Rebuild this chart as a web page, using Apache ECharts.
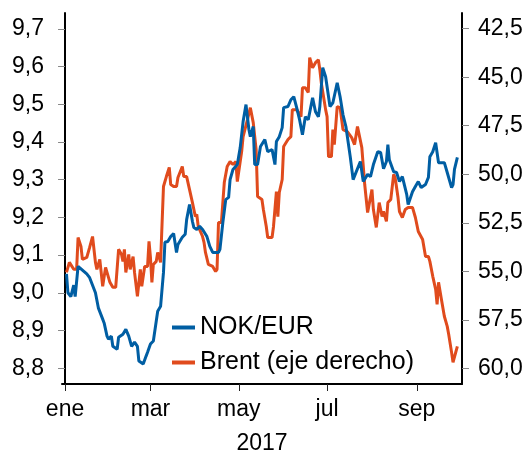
<!DOCTYPE html>
<html>
<head>
<meta charset="utf-8">
<script src="https://cdn.jsdelivr.net/npm/echarts@6/dist/echarts.min.js"></script>
<style>
  html, body { margin: 0; padding: 0; background: #fff; }
  #chart { width: 529px; height: 453px; }
</style>
</head>
<body>
<div id="chart"></div>
<script>
// day of year (0 = 1 ene 2017) and value
const nokEur = [
  [1, 9.05], [2, 9.00], [4, 8.99], [6, 9.02], [7, 8.99], [9, 9.07], [12, 9.06], [15, 9.05],
  [17, 9.04], [19, 9.02], [21, 9.00], [23, 8.96], [26, 8.93], [27, 8.92], [29, 8.885], [30, 8.877],
  [32, 8.885], [33, 8.858], [36, 8.85], [37, 8.882], [40, 8.89], [42, 8.903], [44, 8.885], [46, 8.858],
  [48, 8.869], [50, 8.858], [51, 8.819], [54, 8.811], [56, 8.832], [57, 8.842], [59, 8.864], [61, 8.872],
  [64, 8.951], [66, 8.964], [68, 9.054], [69, 9.134], [71, 9.136], [73, 9.149], [75, 9.157], [77, 9.107],
  [78, 9.128], [81, 9.147], [83, 9.155], [84, 9.194], [86, 9.234], [88, 9.189], [89, 9.173], [91, 9.168],
  [93, 9.176], [95, 9.168], [98, 9.149], [100, 9.123], [102, 9.107], [106, 9.107], [107, 9.115], [109, 9.186],
  [111, 9.247], [113, 9.253], [114, 9.30], [116, 9.327], [119, 9.34], [121, 9.385], [123, 9.454], [125, 9.499],
  [127, 9.433], [128, 9.414], [130, 9.441], [131, 9.34], [133, 9.34], [135, 9.388], [138, 9.406], [140, 9.374],
  [143, 9.38], [145, 9.34], [146, 9.401], [148, 9.414], [150, 9.438], [151, 9.491], [154, 9.494], [156, 9.512],
  [158, 9.52], [160, 9.491], [162, 9.459], [164, 9.419], [166, 9.467], [168, 9.459], [171, 9.517], [173, 9.48],
  [175, 9.467], [176, 9.494], [178, 9.597], [180, 9.573], [181, 9.573], [183, 9.494], [185, 9.504], [188, 9.557],
  [190, 9.52], [192, 9.472], [194, 9.441], [197, 9.361], [199, 9.30], [200, 9.30], [204, 9.348], [206, 9.295],
  [209, 9.314], [211, 9.308], [213, 9.34], [216, 9.374], [218, 9.372], [220, 9.329], [222, 9.348], [223, 9.393],
  [224, 9.353], [227, 9.321], [229, 9.319], [231, 9.295], [233, 9.308], [236, 9.261], [237, 9.234], [240, 9.268],
  [242, 9.282], [244, 9.295], [246, 9.279], [249, 9.287], [251, 9.306], [252, 9.361], [254, 9.374], [256, 9.398],
  [258, 9.345], [260, 9.345], [262, 9.345], [264, 9.319], [265, 9.314], [267, 9.279], [268, 9.287], [269, 9.327],
  [271, 9.359]
]

const brent = [
  [1, 55.06], [3, 54.54], [6, 54.90], [8, 54.90], [9, 53.26], [11, 53.72], [12, 54.39], [15, 54.29],
  [16, 54.39], [17, 53.77], [19, 53.21], [21, 54.54], [22, 54.90], [24, 54.39], [26, 55.78], [28, 54.80],
  [29, 54.80], [31, 55.57], [33, 55.83], [35, 55.83], [37, 53.87], [39, 54.13], [40, 54.49], [41, 53.87],
  [42, 55.06], [44, 54.13], [45, 54.90], [47, 54.24], [48, 55.06], [50, 56.29], [52, 54.90], [53, 55.78],
  [55, 54.75], [57, 54.75], [58, 53.46], [59, 54.29], [60, 55.57], [61, 54.65], [63, 54.49], [64, 54.03],
  [66, 54.54], [68, 50.63], [69, 50.53], [70, 50.12], [72, 49.65], [73, 50.53], [75, 50.63], [77, 50.63],
  [78, 50.17], [81, 49.60], [82, 50.12], [84, 50.12], [85, 50.17], [86, 50.79], [88, 51.46], [90, 52.18],
  [91, 52.07], [92, 52.69], [93, 52.69], [95, 53.21], [96, 53.51], [97, 54.03], [99, 54.65], [100, 54.70],
  [102, 54.75], [104, 55.01], [105, 54.90], [106, 52.49], [108, 52.49], [110, 50.43], [112, 49.60], [114, 49.35],
  [116, 49.50], [118, 49.35], [119, 50.38], [122, 48.83], [123, 48.06], [126, 47.18], [128, 46.57], [130, 47.34],
  [132, 48.73], [133, 51.15], [136, 51.30], [137, 51.82], [139, 52.69], [140, 53.26], [143, 53.26], [144, 52.69],
  [146, 50.89], [147, 52.18], [148, 50.94], [150, 50.27], [151, 48.57], [154, 48.21], [156, 48.06], [157, 46.67],
  [160, 46.67], [161, 46.77], [163, 47.03], [164, 45.54], [166, 45.54], [168, 45.79], [169, 43.99], [171, 44.51],
  [173, 44.25], [175, 44.10], [176, 44.61], [177, 45.28], [180, 46.67], [181, 47.03], [182, 49.09], [184, 49.09],
  [185, 47.70], [186, 48.47], [188, 46.51], [190, 46.57], [192, 47.70], [195, 47.80], [198, 48.11], [200, 48.47],
  [202, 47.54], [205, 48.63], [207, 50.53], [209, 51.97], [212, 50.79], [213, 51.82], [215, 52.74], [217, 51.46],
  [219, 52.18], [220, 51.92], [222, 52.43], [223, 51.46], [225, 51.30], [227, 50.01], [228, 50.17], [230, 51.20],
  [231, 51.92], [233, 52.23], [235, 51.82], [237, 51.71], [240, 51.71], [242, 52.23], [244, 52.95], [245, 52.85],
  [247, 53.36], [249, 54.24], [251, 54.24], [252, 54.49], [254, 55.26], [256, 55.93], [257, 56.71], [258, 55.57],
  [260, 56.45], [262, 57.32], [264, 57.84], [265, 58.25], [267, 59.18], [268, 59.69], [269, 59.69], [271, 58.87]
]

const monthDays = [0, 59, 120, 181, 243]
const monthLabels = ['ene', 'mar', 'may', 'jul', 'sep']
const leftTicks = [8.8, 8.9, 9.0, 9.1, 9.2, 9.3, 9.4, 9.5, 9.6, 9.7]
const rightTicks = [42.5, 45, 47.5, 50, 52.5, 55, 57.5, 60]

const FONT = 'Liberation Sans, Arial, sans-serif'
const comma = v => v.toFixed(1).replace('.', ',')

const chart = echarts.init(document.getElementById('chart'), null, { renderer: 'canvas' })

chart.setOption({
  animation: false,
  backgroundColor: '#fff',
  textStyle: { fontFamily: FONT },
  grid: { left: 62, right: 67, top: 13, bottom: 69, containLabel: false, outerBoundsMode: 'none' },
  legend: {
    orient: 'vertical',
    left: 172,
    top: 315,
    padding: 0,
    icon: 'rect',
    itemWidth: 23,
    itemHeight: 4,
    itemGap: 10,
    textStyle: { fontSize: 25, color: '#000', fontFamily: FONT },
    data: ['NOK/EUR', 'Brent (eje derecho)'],
  },
  xAxis: {
    type: 'value',
    min: -2.1,
    max: 274.2,
    name: '2017',
    nameLocation: 'middle',
    nameGap: 48,
    nameMoveOverlap: false,
    nameTextStyle: { fontSize: 23, color: '#000', fontFamily: FONT },
    axisLine: { lineStyle: { color: '#000', width: 2 } },
    axisTick: { customValues: monthDays, length: 7, lineStyle: { color: '#222', width: 1 } },
    axisLabel: {
      customValues: monthDays,
      margin: 14,
      fontSize: 23,
      color: '#000',
      formatter: v => monthLabels[monthDays.indexOf(Math.round(v))] || '',
    },
    splitLine: { show: false },
  },
  yAxis: [
    {
      type: 'value',
      position: 'left',
      min: 8.758,
      max: 9.742,
      axisLine: { show: true, lineStyle: { color: '#000', width: 2 } },
      axisTick: { show: true, customValues: leftTicks, length: 7, lineStyle: { color: '#888' } },
      axisLabel: { customValues: leftTicks, margin: 18, fontSize: 23, color: '#000', formatter: comma },
      splitLine: { show: false },
    },
    {
      type: 'value',
      position: 'right',
      inverse: true,
      min: 41.69,
      max: 60.81,
      axisLine: { show: true, lineStyle: { color: '#000', width: 2 } },
      axisTick: { show: true, customValues: rightTicks, length: 7, lineStyle: { color: '#888' } },
      axisLabel: { customValues: rightTicks, margin: 16, fontSize: 23, color: '#000', formatter: comma },
      splitLine: { show: false },
    },
  ],
  series: [
    {
      name: 'Brent (eje derecho)',
      type: 'line',
      yAxisIndex: 1,
      data: brent,
      showSymbol: false,
      color: '#e04b1d',
      lineStyle: { width: 3, color: '#e04b1d' },
      z: 2,
    },
    {
      name: 'NOK/EUR',
      type: 'line',
      yAxisIndex: 0,
      data: nokEur,
      showSymbol: false,
      color: '#005ea3',
      lineStyle: { width: 3, color: '#005ea3' },
      z: 3,
    },
  ],
})
</script>
</body>
</html>
